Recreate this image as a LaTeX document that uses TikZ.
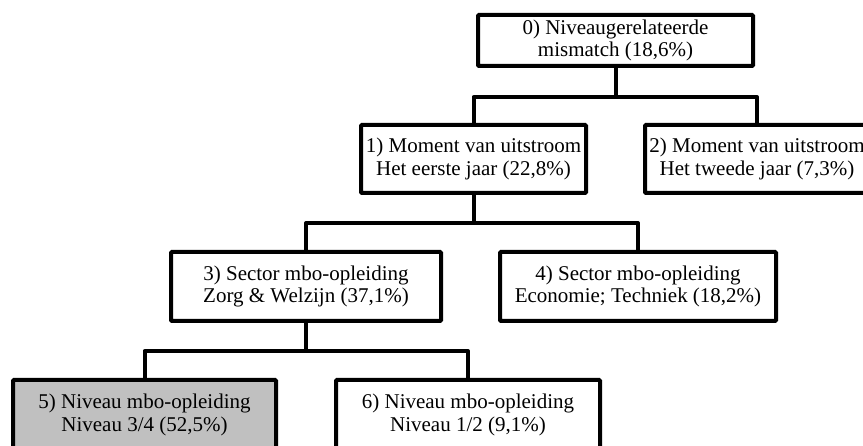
\documentclass[tikz,border=0pt]{standalone}
\usepackage{fontspec}
\setmainfont{Liberation Serif}
\begin{document}
\begin{tikzpicture}[x=1pt,y=-1pt,
  box/.style={draw=black, line width=4pt, fill=white, rounded corners=1pt, align=center,
    inner sep=0pt, font=\fontsize{21}{22.5}\selectfont},
  conn/.style={draw=black, line width=4pt, line join=round}]
\useasboundingbox (0,0) rectangle (863,446);
\node[box, minimum width=275pt, minimum height=51pt] (b0) at (615.5,40.5) {0) Niveaugerelateerde\\mismatch (18,6\%)};
\node[box, minimum width=225pt, minimum height=68pt] (b1) at (473.5,159) {1) Moment van uitstroom\\Het eerste jaar (22,8\%)};
\node[box, minimum width=224pt, minimum height=68pt] (b2) at (757,159) {2) Moment van uitstroom\\Het tweede jaar (7,3\%)};
\node[box, minimum width=270pt, minimum height=69pt] (b3) at (306,286.5) {3) Sector mbo-opleiding\\Zorg \& Welzijn (37,1\%)};
\node[box, minimum width=276pt, minimum height=69pt] (b4) at (638,286.5) {4) Sector mbo-opleiding\\Economie; Techniek (18,2\%)};
\node[box, fill={rgb,255:red,192;green,192;blue,192}, minimum width=263pt, minimum height=70pt] (b5) at (144.5,415) {5) Niveau mbo-opleiding\\Niveau 3/4 (52,5\%)};
\node[box, minimum width=264pt, minimum height=70pt] (b6) at (468,415) {6) Niveau mbo-opleiding\\Niveau 1/2 (9,1\%)};
\coordinate (j0) at (b0.south |- 0,97);
\coordinate (j1) at (b1.south |- 0,223);
\coordinate (j3) at (b3.south |- 0,351);
\draw[conn] (b0.south) -- (j0);
\draw[conn] (b1.north) |- (j0) -| (b2.north);
\draw[conn] (b1.south) -- (j1);
\draw[conn] (b3.north) |- (j1) -| (b4.north);
\draw[conn] (b3.south) -- (j3);
\draw[conn] (b5.north) |- (j3) -| (b6.north);
\end{tikzpicture}
\end{document}
